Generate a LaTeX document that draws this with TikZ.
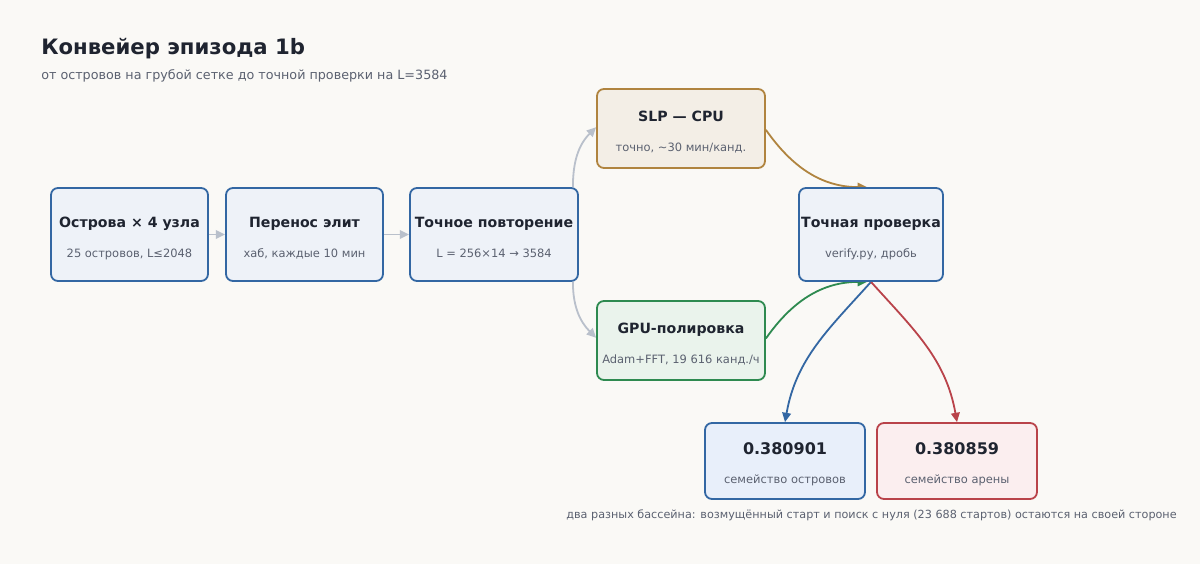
\documentclass[tikz,border=0pt]{standalone}
\usepackage{fontspec}
\setmainfont{DejaVu Sans}
\usetikzlibrary{arrows.meta}
\definecolor{bgc}{HTML}{FAF9F6}
\definecolor{ink}{HTML}{1F2430}
\definecolor{muted}{HTML}{5B6170}
\definecolor{bluestroke}{HTML}{3367A3}
\definecolor{bluefill}{HTML}{EEF2F8}
\definecolor{resbluefill}{HTML}{E8EFFA}
\definecolor{redstroke}{HTML}{B9434A}
\definecolor{redfill}{HTML}{FBEEEF}
\definecolor{goldstroke}{HTML}{B0843F}
\definecolor{goldfill}{HTML}{F3EEE6}
\definecolor{greenstroke}{HTML}{2E8A50}
\definecolor{greenfill}{HTML}{EAF3EC}
\definecolor{graylink}{HTML}{B9C0CB}
\pgfdeclarelayer{bglayer}
\pgfdeclarelayer{edges}
\pgfsetlayers{bglayer,edges,main}
\tikzset{
  box/.style={draw, rounded corners=5.25pt, line width=1.35pt, inner sep=0pt},
  stagebox/.style={box, draw=bluestroke, fill=bluefill, minimum width=117.75pt, minimum height=69.75pt},
  widebox/.style={box, minimum width=126pt},
  resbox/.style={box, minimum width=120pt, minimum height=57pt},
  ttl/.style={anchor=base, inner sep=0pt, text=ink, font=\fontsize{10.6pt}{12pt}\selectfont\bfseries},
  num/.style={anchor=base, inner sep=0pt, text=ink, font=\fontsize{12pt}{14pt}\selectfont\bfseries},
  sub/.style={anchor=base, inner sep=0pt, text=muted, font=\fontsize{8.6pt}{10pt}\selectfont},
  link/.style={line width=1.35pt, -{Triangle[length=7pt,width=6.5pt]}},
}
\begin{document}
\begin{tikzpicture}[x=0.75pt,y=0.75pt]
\begin{pgfonlayer}{bglayer}
\fill[bgc] (0,0) rectangle (1200,564);
\end{pgfonlayer}
\useasboundingbox (0,0) rectangle (1200,564);

% title
\node[anchor=base west, inner sep=0pt, text=ink, font=\fontsize{15.9pt}{18pt}\selectfont\bfseries] (title) at (41,509) {Конвейер эпизода 1b};
\node[anchor=base west, inner sep=0pt, text=muted, font=\fontsize{9.55pt}{12pt}\selectfont] (subtitle) at (41,484) {от островов на грубой сетке до точной проверки на L=3584};

% boxes
\node[stagebox] (A) at (129.5,329.5) {};
\node[ttl] (At) at ([yshift=5.25pt]A.center) {Острова × 4 узла};
\node[sub] (As) at ([yshift=-16.9pt]A.center) {25 островов, L≤2048};

\node[stagebox] (B) at (304.5,329.5) {};
\node[ttl] (Bt) at ([yshift=5.25pt]B.center) {Перенос элит};
\node[sub] (Bs) at ([yshift=-16.9pt]B.center) {хаб, каждые 10 мин};

\node[stagebox, minimum width=126pt] (C) at (494,329.5) {};
\node[ttl] (Ct) at ([yshift=5.25pt]C.center) {Точное повторение};
\node[sub] (Cs) at ([yshift=-16.9pt]C.center) {L = 256×14 → 3584};

\node[widebox, draw=goldstroke, fill=goldfill, minimum height=59.25pt] (S) at (681,435.5) {};
\node[ttl] (St) at ([yshift=5.25pt]S.center) {SLP — CPU};
\node[sub] (Ss) at ([yshift=-16.9pt]S.center) {точно, \textasciitilde30 мин/канд.};

\node[widebox, draw=greenstroke, fill=greenfill, minimum height=59.25pt] (G) at (681,223.5) {};
\node[ttl] (Gt) at ([yshift=5.25pt]G.center) {GPU-полировка};
\node[sub] (Gs) at ([yshift=-16.9pt]G.center) {Adam+FFT, 19 616 канд./ч};

\node[stagebox, minimum width=108pt] (V) at (871,329.5) {};
\node[ttl] (Vt) at ([yshift=5.25pt]V.center) {Точная проверка};
\node[sub] (Vs) at ([yshift=-16.9pt]V.center) {verify.py, дробь};

\node[resbox, draw=bluestroke, fill=resbluefill] (R1) at (785,103) {};
\node[num] (R1t) at ([yshift=4.5pt]R1.center) {0.380901};
\node[sub] (R1s) at ([yshift=-17.25pt]R1.center) {семейство островов};

\node[resbox, draw=redstroke, fill=redfill] (R2) at (957,103) {};
\node[num] (R2t) at ([yshift=4.5pt]R2.center) {0.380859};
\node[sub] (R2s) at ([yshift=-17.25pt]R2.center) {семейство арены};

\node[anchor=base, inner sep=0pt, text=muted, font=\fontsize{8.4pt}{10pt}\selectfont] (note) at (871.5,45) {два разных бассейна: возмущённый старт и поиск с нуля (23 688 стартов) остаются на своей стороне};

% connectors
\begin{pgfonlayer}{edges}
\draw[link, graylink] (A.east) -- (B.west);
\draw[link, graylink] (B.east) -- (C.west);
\draw[link, graylink] ([xshift=-4.5pt]C.north east) to[out=90, in=-135] ([yshift=1pt]S.west);
\draw[link, graylink] ([xshift=-4.5pt]C.south east) to[out=-90, in=135] ([yshift=2pt]G.west);
\draw[link, goldstroke] ([yshift=-1pt]S.east) to[out=-55, in=180] ([xshift=-3pt]V.north);
\draw[link, greenstroke] ([yshift=1.5pt]G.east) to[out=55, in=180] ([xshift=-3pt]V.south);
\draw[link, bluestroke] (V.south) to[out=-132, in=80] (R1.north);
\draw[link, redstroke] (V.south) to[out=-48, in=100] (R2.north);
\end{pgfonlayer}
\end{tikzpicture}
\end{document}
